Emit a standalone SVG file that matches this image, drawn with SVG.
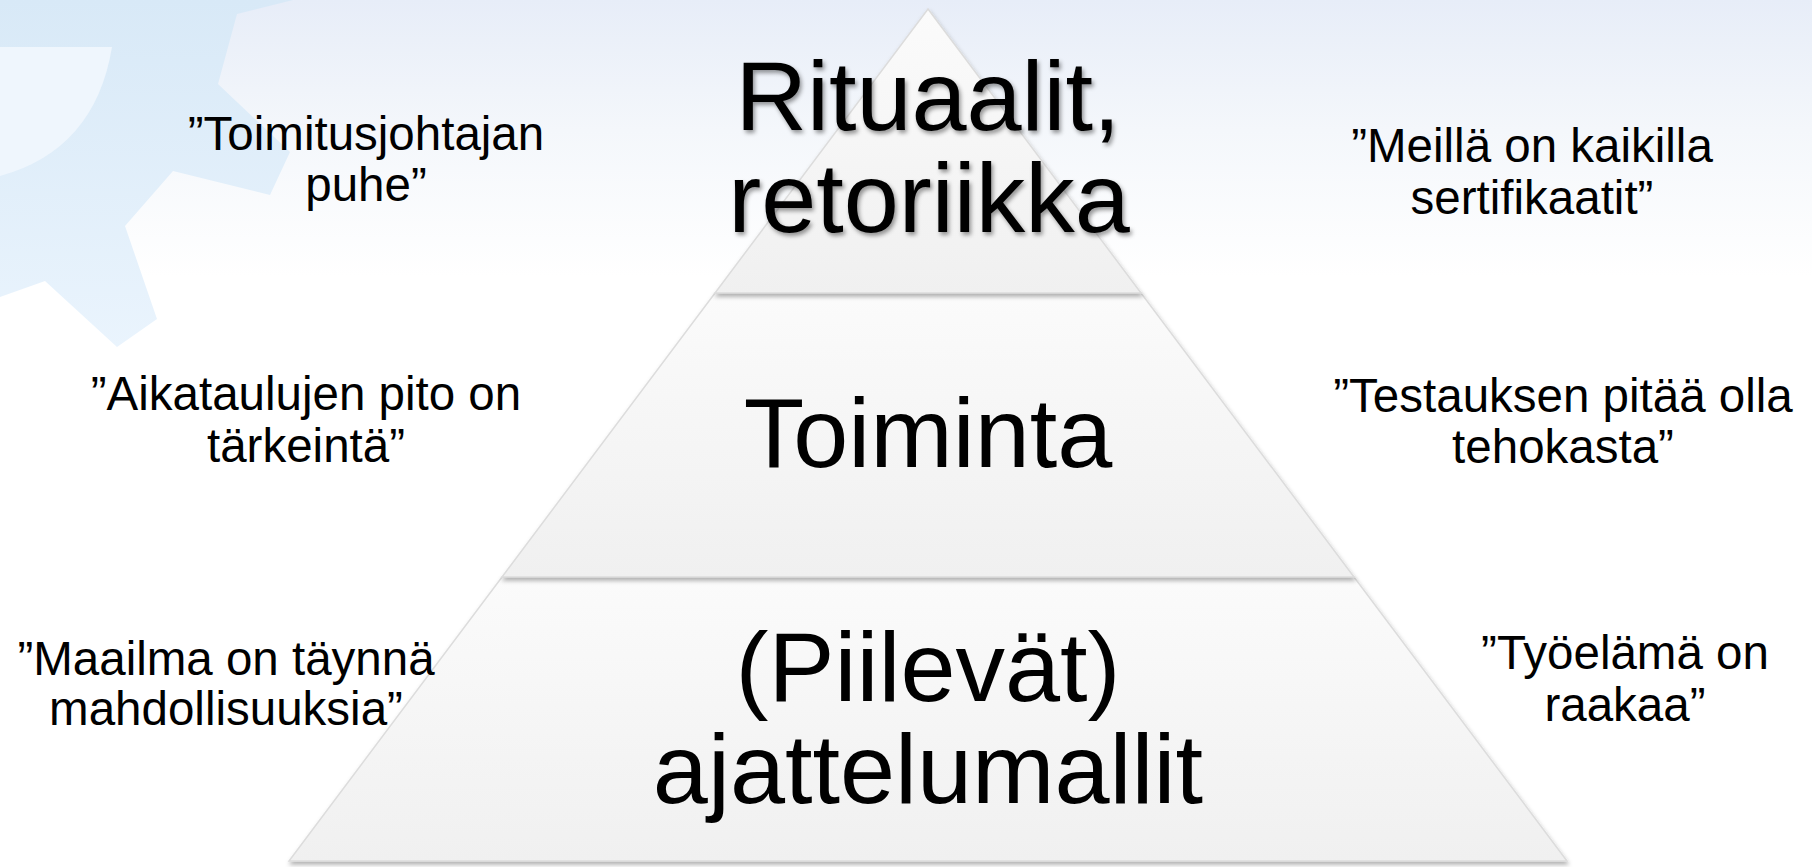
<svg xmlns="http://www.w3.org/2000/svg" width="1812" height="867" viewBox="0 0 1812 867">
  <defs>
    <linearGradient id="bg" x1="0" y1="0" x2="0" y2="867" gradientUnits="userSpaceOnUse">
      <stop offset="0" stop-color="#e7edf8"/>
      <stop offset="0.15" stop-color="#f4f7fb"/>
      <stop offset="0.32" stop-color="#ffffff"/>
      <stop offset="1" stop-color="#ffffff"/>
    </linearGradient>
    <linearGradient id="gear" x1="0" y1="0" x2="0" y2="350" gradientUnits="userSpaceOnUse">
      <stop offset="0" stop-color="#d8e9f7"/>
      <stop offset="1" stop-color="#eaf4fd"/>
    </linearGradient>
    <linearGradient id="tier" x1="0" y1="0" x2="0" y2="1">
      <stop offset="0" stop-color="#fbfbfb"/>
      <stop offset="1" stop-color="#f0f0f0"/>
    </linearGradient>
    <filter id="tierShadow" x="-10%" y="-10%" width="120%" height="125%">
      <feDropShadow dx="1" dy="3" stdDeviation="2" flood-color="#000" flood-opacity="0.3"/>
    </filter>
    <filter id="textShadow" x="-10%" y="-10%" width="120%" height="130%">
      <feDropShadow dx="2" dy="3" stdDeviation="2" flood-color="#000" flood-opacity="0.4"/>
    </filter>
    <style>
      .tier { fill: url(#tier); stroke: #dcdcdc; stroke-width: 1.5; filter: url(#tierShadow); }
      .big { font-family: "Liberation Sans", Arial, sans-serif; font-size: 99px; fill: #000; text-anchor: middle; }
      .quote { font-family: "Liberation Sans", Arial, sans-serif; font-size: 47.5px; fill: #000; text-anchor: middle; }
    </style>
  </defs>

  <!-- background -->
  <rect x="0" y="0" width="1812" height="867" fill="url(#bg)"/>
  <g id="gear-decoration">
    <path d="M-5,-5 L313,-5 L237,14 L218,84 L290,152 L270,195 L173,171 L125,226 L157,319 L117,347 L45,281 L0,297 L-5,298 Z" fill="url(#gear)"/>
    <path d="M0,47 L112,47 Q95,150 0,176 Z" fill="#eff6fd"/>
  </g>

  <!-- pyramid tiers -->
  <g id="tier-bottom">
    <polygon class="tier" points="502,577 1354,577 1567,861 289,861"/>
    <text class="big" x="928" y="701">(Piilevät)</text>
    <text class="big" x="928" y="803">ajattelumallit</text>
  </g>
  <g id="tier-middle">
    <polygon class="tier" points="715,293 1141,293 1354,577 502,577"/>
    <text class="big" x="928" y="467">Toiminta</text>
  </g>
  <g id="tier-top">
    <polygon class="tier" points="928,9 1141,293 715,293"/>
    <g filter="url(#textShadow)">
      <text class="big" x="928" y="130">Rituaalit,</text>
      <text class="big" x="929" y="232">retoriikka</text>
    </g>
  </g>

  <!-- quotes -->
  <g id="quote-left-top">
    <text class="quote" x="366" y="150">”Toimitusjohtajan</text>
    <text class="quote" x="366" y="201">puhe”</text>
  </g>
  <g id="quote-right-top">
    <text class="quote" x="1532" y="162">”Meillä on kaikilla</text>
    <text class="quote" x="1532" y="214">sertifikaatit”</text>
  </g>
  <g id="quote-left-middle">
    <text class="quote" x="306" y="410">”Aikataulujen pito on</text>
    <text class="quote" x="306" y="462">tärkeintä”</text>
  </g>
  <g id="quote-right-middle">
    <text class="quote" x="1563" y="412">”Testauksen pitää olla</text>
    <text class="quote" x="1563" y="463">tehokasta”</text>
  </g>
  <g id="quote-left-bottom">
    <text class="quote" x="226" y="675">”Maailma on täynnä</text>
    <text class="quote" x="226" y="725">mahdollisuuksia”</text>
  </g>
  <g id="quote-right-bottom">
    <text class="quote" x="1625" y="669">”Työelämä on</text>
    <text class="quote" x="1625" y="721">raakaa”</text>
  </g>
</svg>
